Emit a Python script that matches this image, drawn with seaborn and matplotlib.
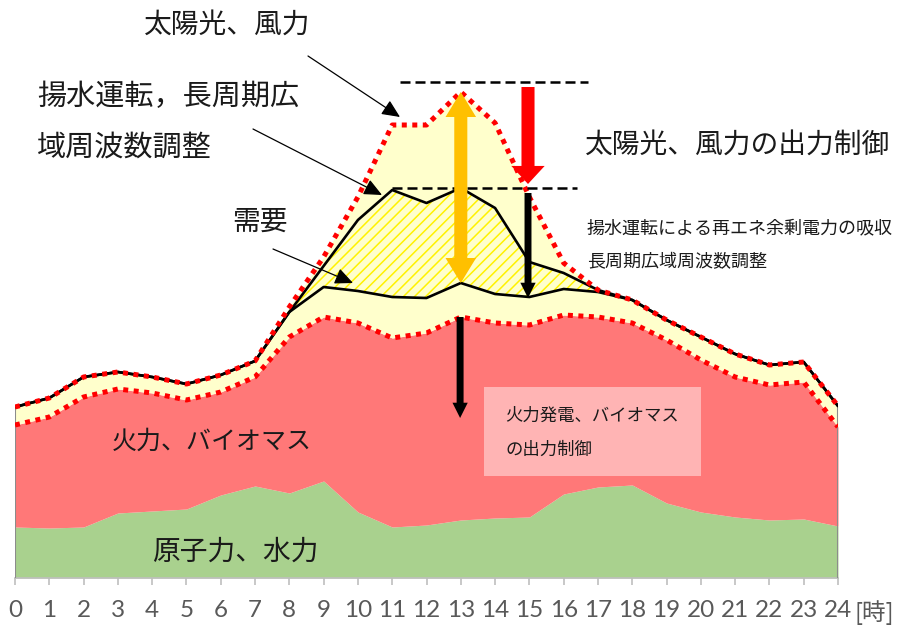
import numpy as np
import pandas as pd
import matplotlib
matplotlib.use("Agg")
import matplotlib.pyplot as plt
from matplotlib.patches import FancyArrowPatch, Rectangle, ArrowStyle
import seaborn as sns

# ---------------- data (arbitrary power units) ----------------
hours = list(range(25))
tick_labels = [str(h) for h in hours]
nuclear_hydro = [51, 50, 51, 65, 67, 69, 83, 92, 85, 97, 66, 51, 53,
                 58, 60, 61, 84, 91, 93, 75, 66, 61, 58, 59, 52]
thermal_top = [153, 161, 181, 189, 185, 178, 186, 201, 241, 261, 255, 240, 245,
               261, 255, 253, 263, 261, 255, 238, 218, 201, 193, 196, 151]
demand = [171, 180, 201, 206, 201, 194, 203, 217, 266, 291, 287, 281, 280,
          295, 284, 281, 289, 286, 278, 258, 241, 224, 213, 216, 172]
pumping_top = [171, 180, 201, 206, 201, 194, 203, 217, 266, 312, 358, 388, 375,
               390, 370, 316, 305, 288, 278, 258, 241, 224, 213, 216, 172]
renew_top = [171, 180, 201, 206, 201, 194, 203, 217, 271, 321, 381, 453, 453,
             486, 455, 381, 315, 288, 278, 258, 241, 224, 213, 216, 172]

df = pd.DataFrame({"hour": hours, "nuc": nuclear_hydro, "thermal": thermal_top,
                   "demand": demand, "pump": pumping_top, "renew": renew_top})

# ---------------- style ----------------
sns.set_theme(style="white")
plt.rcParams['font.family'] = ['Noto Sans CJK JP', 'DejaVu Sans']
plt.rcParams['hatch.linewidth'] = 1.1

W, H = 897, 627
fig = plt.figure(figsize=(W / 100, H / 100), dpi=100)
ax = fig.add_axes([15 / W, 49 / H, 823 / W, 578 / H])
ax.set_xlim(0, 24)
ax.set_ylim(0, 578)

GREEN = "#A9D18E"
RED_FILL = "#FF7878"
YELLOW = "#FFFFCC"
TXT = "#1a1a1a"

x = df["hour"]
ax.fill_between(x, 0, df["nuc"], color=GREEN, lw=0, zorder=1)
ax.fill_between(x, df["nuc"], df["thermal"], color=RED_FILL, lw=0, zorder=1)
ax.fill_between(x, df["thermal"], df["renew"], color=YELLOW, lw=0, zorder=1)
ax.fill_between(x, df["demand"], df["pump"], facecolor="none", edgecolor="#FFF200",
                hatch="///", lw=0, zorder=2)

# side edges
ax.plot([0, 0], [0, demand[0]], color="#8c8c8c", lw=1.5, zorder=3)
ax.plot([24, 24], [0, demand[-1]], color="#8c8c8c", lw=1.5, zorder=3)

sns.lineplot(data=df, x="hour", y="pump", color="black", lw=1.9, ax=ax, zorder=4)
sns.lineplot(data=df, x="hour", y="demand", color="black", lw=1.9, ax=ax, zorder=4)
sns.lineplot(data=df, x="hour", y="thermal", color="#FF0000", lw=3.6, ax=ax, zorder=5,
             linestyle=(0, (1, 1.1)))
sns.lineplot(data=df, x="hour", y="renew", color="#FF0000", lw=3.6, ax=ax, zorder=5,
             linestyle=(0, (1, 1.1)))

# dashed reference lines
ax.plot([11.23, 16.71], [496, 496], color="black", lw=1.8, ls=(0, (4, 2)), zorder=6)
ax.plot([11.0, 16.39], [390, 390], color="black", lw=1.8, ls=(0, (4, 2)), zorder=6)


def fat_arrow(x0, y0, x1, y1, color, tail, hw, hl, z=7):
    st = ArrowStyle.Simple(head_length=hl, head_width=hw, tail_width=tail)
    p = FancyArrowPatch((x0, y0), (x1, y1), arrowstyle=st, mutation_scale=1,
                        color=color, lw=0, shrinkA=0, shrinkB=0, zorder=z)
    ax.add_patch(p)


# orange double arrow
fat_arrow(13, 390, 13, 486, "#FFC000", 9.4, 22, 18)
fat_arrow(13, 390, 13, 295, "#FFC000", 9.4, 22, 18)
# red arrow
fat_arrow(14.96, 491, 14.96, 394, "#FF0000", 9.4, 24, 13)
# black arrows
fat_arrow(14.96, 385, 14.96, 280, "black", 5, 11, 11)
fat_arrow(12.98, 261, 12.98, 160, "black", 5, 11, 11)

# axis styling
for s in ["left", "right", "top"]:
    ax.spines[s].set_visible(False)
ax.spines["bottom"].set_color("#BFBFBF")
ax.spines["bottom"].set_linewidth(1.2)
ax.set_yticks([])
ax.set_xticks(hours)
ax.set_xticklabels(tick_labels)
ax.tick_params(axis="x", bottom=True, length=5, width=1.2, color="#BFBFBF",
               labelsize=17.5, labelcolor="#595959", pad=11)
for lbl in ax.get_xticklabels():
    lbl.set_fontfamily(["Lato", "DejaVu Sans"])
ax.set_xlabel("")
ax.set_ylabel("")


def P(px, py):
    return (px / W, 1 - py / H)


fig.text(*P(874, 613), "[時]", fontsize=17, color="#595959", ha="center", va="center")

fig.text(*P(227, 25), "太陽光、風力", fontsize=20, color=TXT, ha="center", va="center")
fig.text(*P(37, 97), "揚水運転，長周期広", fontsize=21, color=TXT, ha="left", va="center")
fig.text(*P(37, 148), "域周波数調整", fontsize=21, color=TXT, ha="left", va="center")
fig.text(*P(232, 222), "需要", fontsize=20, color=TXT, ha="left", va="center")
fig.text(*P(585, 145), "太陽光、風力の出力制御", fontsize=20, color=TXT, ha="left", va="center")
fig.text(*P(587, 228), "揚水運転による再エネ余剰電力の吸収", fontsize=13, color=TXT,
         ha="left", va="center")
fig.text(*P(587, 262), "長周期広域周波数調整", fontsize=13, color=TXT, ha="left", va="center")
fig.text(*P(212, 442), "火力、バイオマス", fontsize=18, color=TXT, ha="center", va="center")
fig.text(*P(235, 552), "原子力、水力", fontsize=20, color=TXT, ha="center", va="center")

# pink box
bx0, by0 = P(484, 476)
bx1, by1 = P(701, 387)
fig.patches.append(Rectangle((bx0, by0), bx1 - bx0, by1 - by0, transform=fig.transFigure,
                             facecolor="#FFB4B4", edgecolor="none", zorder=8))
fig.text(*P(505, 416), "火力発電、バイオマス", fontsize=12.5, color=TXT, ha="left",
         va="center", zorder=9)
fig.text(*P(505, 450), "の出力制御", fontsize=12.5, color=TXT, ha="left", va="center", zorder=9)

# callout arrows
for (sx, sy), (ex, ey) in [((308, 56), (400, 117)), ((253, 129), (382, 195)),
                           ((273, 249), (353, 283))]:
    fig.patches.append(FancyArrowPatch(P(sx, sy), P(ex, ey), transform=fig.transFigure,
                                       arrowstyle="-|>,head_length=0.55,head_width=0.25",
                                       mutation_scale=20, color="black", lw=0.9,
                                       shrinkA=0, shrinkB=0, zorder=9))

fig.savefig("out.png", dpi=100)
